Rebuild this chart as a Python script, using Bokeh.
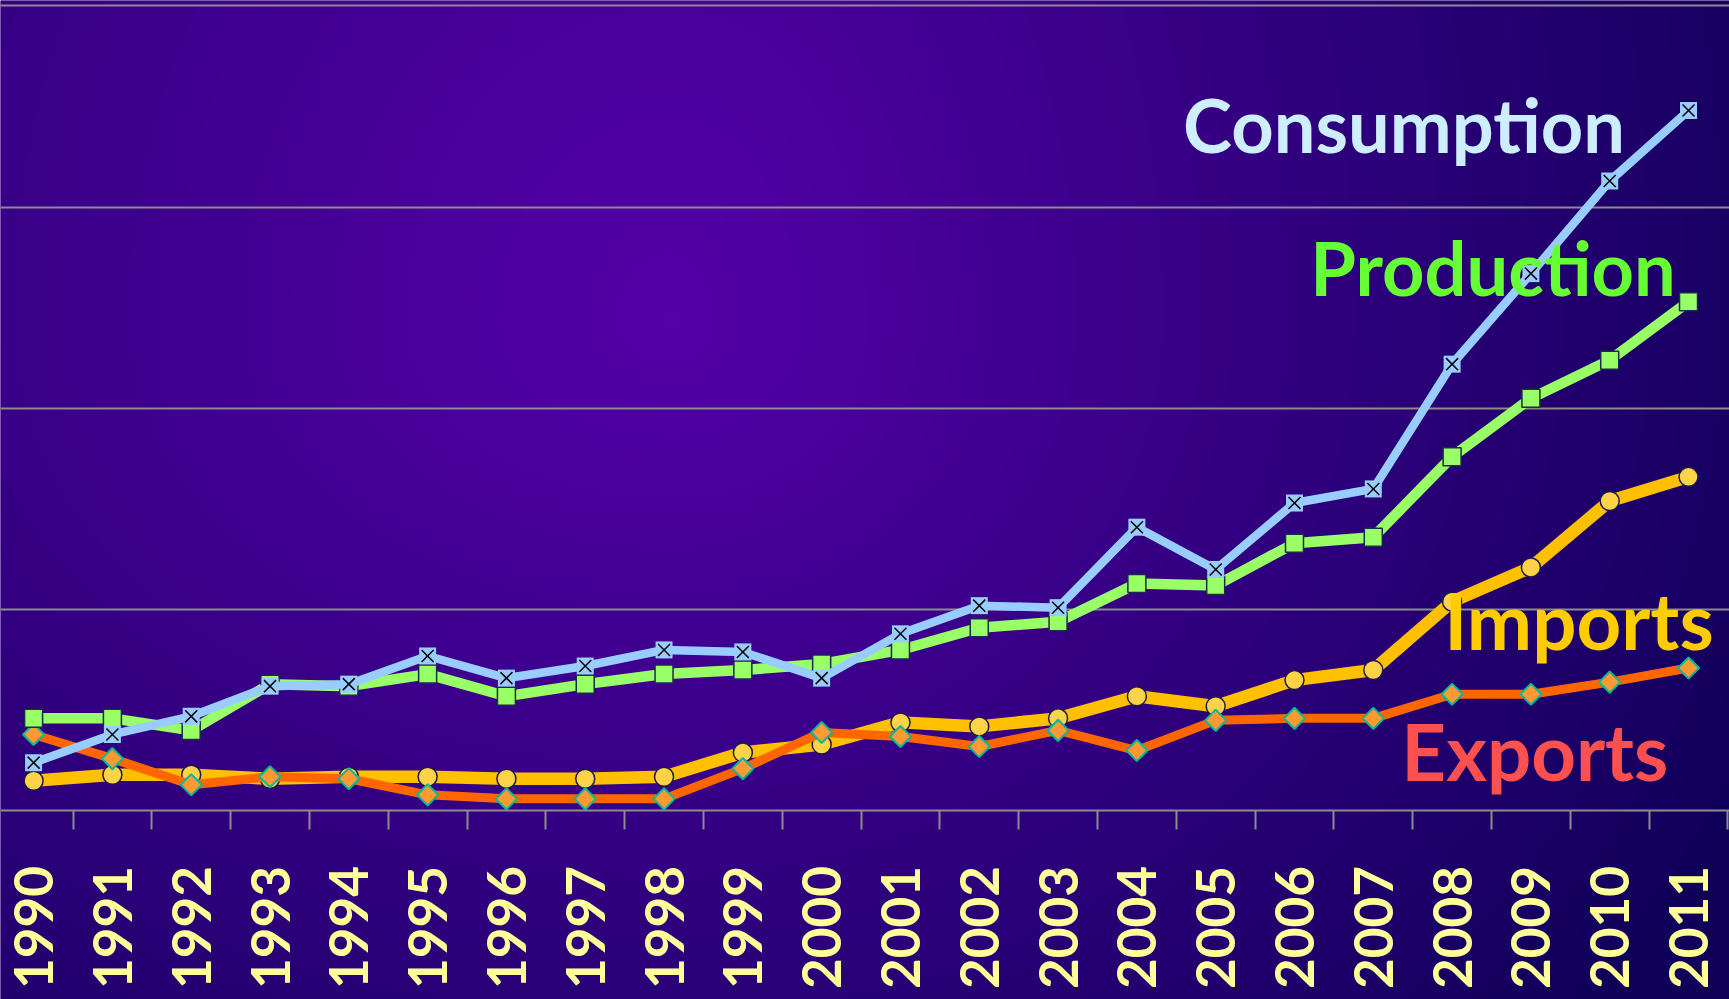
import numpy as np
from bokeh.plotting import figure
from bokeh.models import FixedTicker, Grid, Label, Range1d, LinearAxis
from bokeh.embed import file_html
from bokeh.resources import INLINE

# ---------------- data (gridline spacing = 1 unit) ----------------
years = [str(y) for y in range(1990, 2012)]
consumption = [0.24, 0.38, 0.47, 0.62, 0.63, 0.77, 0.66, 0.72, 0.80, 0.79, 0.66,
               0.88, 1.02, 1.01, 1.41, 1.20, 1.53, 1.60, 2.22, 2.67, 3.13, 3.48]
production = [0.46, 0.46, 0.40, 0.63, 0.62, 0.68, 0.57, 0.63, 0.68, 0.70, 0.73,
              0.80, 0.91, 0.94, 1.13, 1.12, 1.33, 1.36, 1.76, 2.05, 2.24, 2.53]
imports = [0.15, 0.18, 0.18, 0.16, 0.17, 0.17, 0.16, 0.16, 0.17, 0.29, 0.33,
           0.44, 0.42, 0.46, 0.57, 0.52, 0.65, 0.70, 1.04, 1.21, 1.54, 1.66]
exports = [0.38, 0.26, 0.13, 0.17, 0.16, 0.08, 0.06, 0.06, 0.06, 0.21, 0.39,
           0.37, 0.32, 0.40, 0.30, 0.45, 0.46, 0.46, 0.58, 0.58, 0.64, 0.71]
grid_values = [1, 2, 3, 4]
series_names = ["Consumption", "Production", "Imports", "Exports"]

W, H = 1729, 999
x = list(range(len(years)))

p = figure(width=W, height=H, output_backend="svg", toolbar_location=None,
           x_range=Range1d(-0.42, 21.52), y_range=Range1d(-0.937, 4.027),
           x_axis_type=None, y_axis_type=None, min_border=0)
p.outline_line_color = None
p.background_fill_color = "#2a0078"
p.border_fill_color = "#2a0078"

# ---------------- radial gradient background ----------------
GH, GW = 250, 433
px = np.linspace(0, W, GW)
py = np.linspace(H, 0, GH)
PX, PY = np.meshgrid(px, py)
dx = PX - 670.0
dy = PY - 320.0
rx = np.where(dx < 0, 1600.0, 1200.0)
ry = np.where(dy < 0, 1900.0, 1080.0)
t = np.clip(np.sqrt((dx / rx) ** 2 + (dy / ry) ** 2), 0, 1)
img = np.empty((GH, GW), dtype=np.uint32)
v = img.view(dtype=np.uint8).reshape((GH, GW, 4))
v[..., 0] = np.round(85 + (16 - 85) * t).astype(np.uint8)
v[..., 1] = 0
v[..., 2] = np.round(168 + (90 - 168) * t).astype(np.uint8)
v[..., 3] = 255
xr, yr = p.x_range, p.y_range
bg = p.image_rgba(image=[img], x=xr.start, y=yr.start, dw=xr.end - xr.start, dh=yr.end - yr.start)
bg.level = "image"

# ---------------- grid and axis ----------------
grid = Grid(dimension=1, ticker=FixedTicker(ticks=grid_values),
            grid_line_color="#8c8c8c", grid_line_width=2)
p.add_layout(grid)

xaxis = LinearAxis(
    ticker=FixedTicker(ticks=x, minor_ticks=[i - 0.5 for i in range(len(years) + 1)]),
    fixed_location=0,
    major_label_overrides={i: years[i] for i in x},
    major_label_orientation=np.pi / 2,
    major_label_standoff=36,
    major_label_text_font="Lato",
    major_label_text_font_style="bold",
    major_label_text_font_size="53px",
    major_label_text_color="#FFFF99",
    axis_line_color="#8c8c8c", axis_line_width=2,
    major_tick_out=0, major_tick_in=0,
    minor_tick_out=19, minor_tick_in=0,
    minor_tick_line_color="#8c8c8c", minor_tick_line_width=2,
)
p.add_layout(xaxis, "below")

# ---------------- series ----------------
p.line(x, imports, line_color="#FFC000", line_width=12.5)
p.scatter(x, imports, marker="circle", size=19, fill_color="#FFD347",
          line_color="#1c1a4a", line_width=1.5)

p.line(x, exports, line_color="#FF6600", line_width=9)
p.scatter(x, exports, marker="square", angle=np.pi / 4, size=15, fill_color="#FF9933",
          line_color="#00B89A", line_width=2)

p.line(x, production, line_color="#99FF66", line_width=10.5)
p.scatter(x, production, marker="square", size=18, fill_color="#99FF66",
          line_color="#1c2a50", line_width=1.5)

p.line(x, consumption, line_color="#99CCFF", line_width=8.5)
p.scatter(x, consumption, marker="square", size=17, fill_color="#99CCFF", line_color=None)
p.scatter(x, consumption, marker="x", size=17, line_color="black", line_width=1.5)

# ---------------- series name labels ----------------
label_specs = [
    (series_names[0], 17.39, 3.41, "#CCEEFF", "74px"),
    (series_names[1], 18.52, 2.70, "#66FF33", "74px"),
    (series_names[2], 19.61, 0.95, "#FFCC00", "78px"),
    (series_names[3], 19.05, 0.30, "#FF5050", "78px"),
]
for txt, lx, ly, col, fs in label_specs:
    p.add_layout(Label(x=lx, y=ly, text=txt, text_align="center", text_baseline="alphabetic",
                       text_font="Lato", text_font_style="bold", text_font_size=fs,
                       text_color=col))

html = file_html(p, INLINE, title="Consumption, Production, Imports, Exports")
html = html.replace("<body>", '<body style="margin:0;overflow:hidden;">', 1)
open("out.html", "w").write(html)
